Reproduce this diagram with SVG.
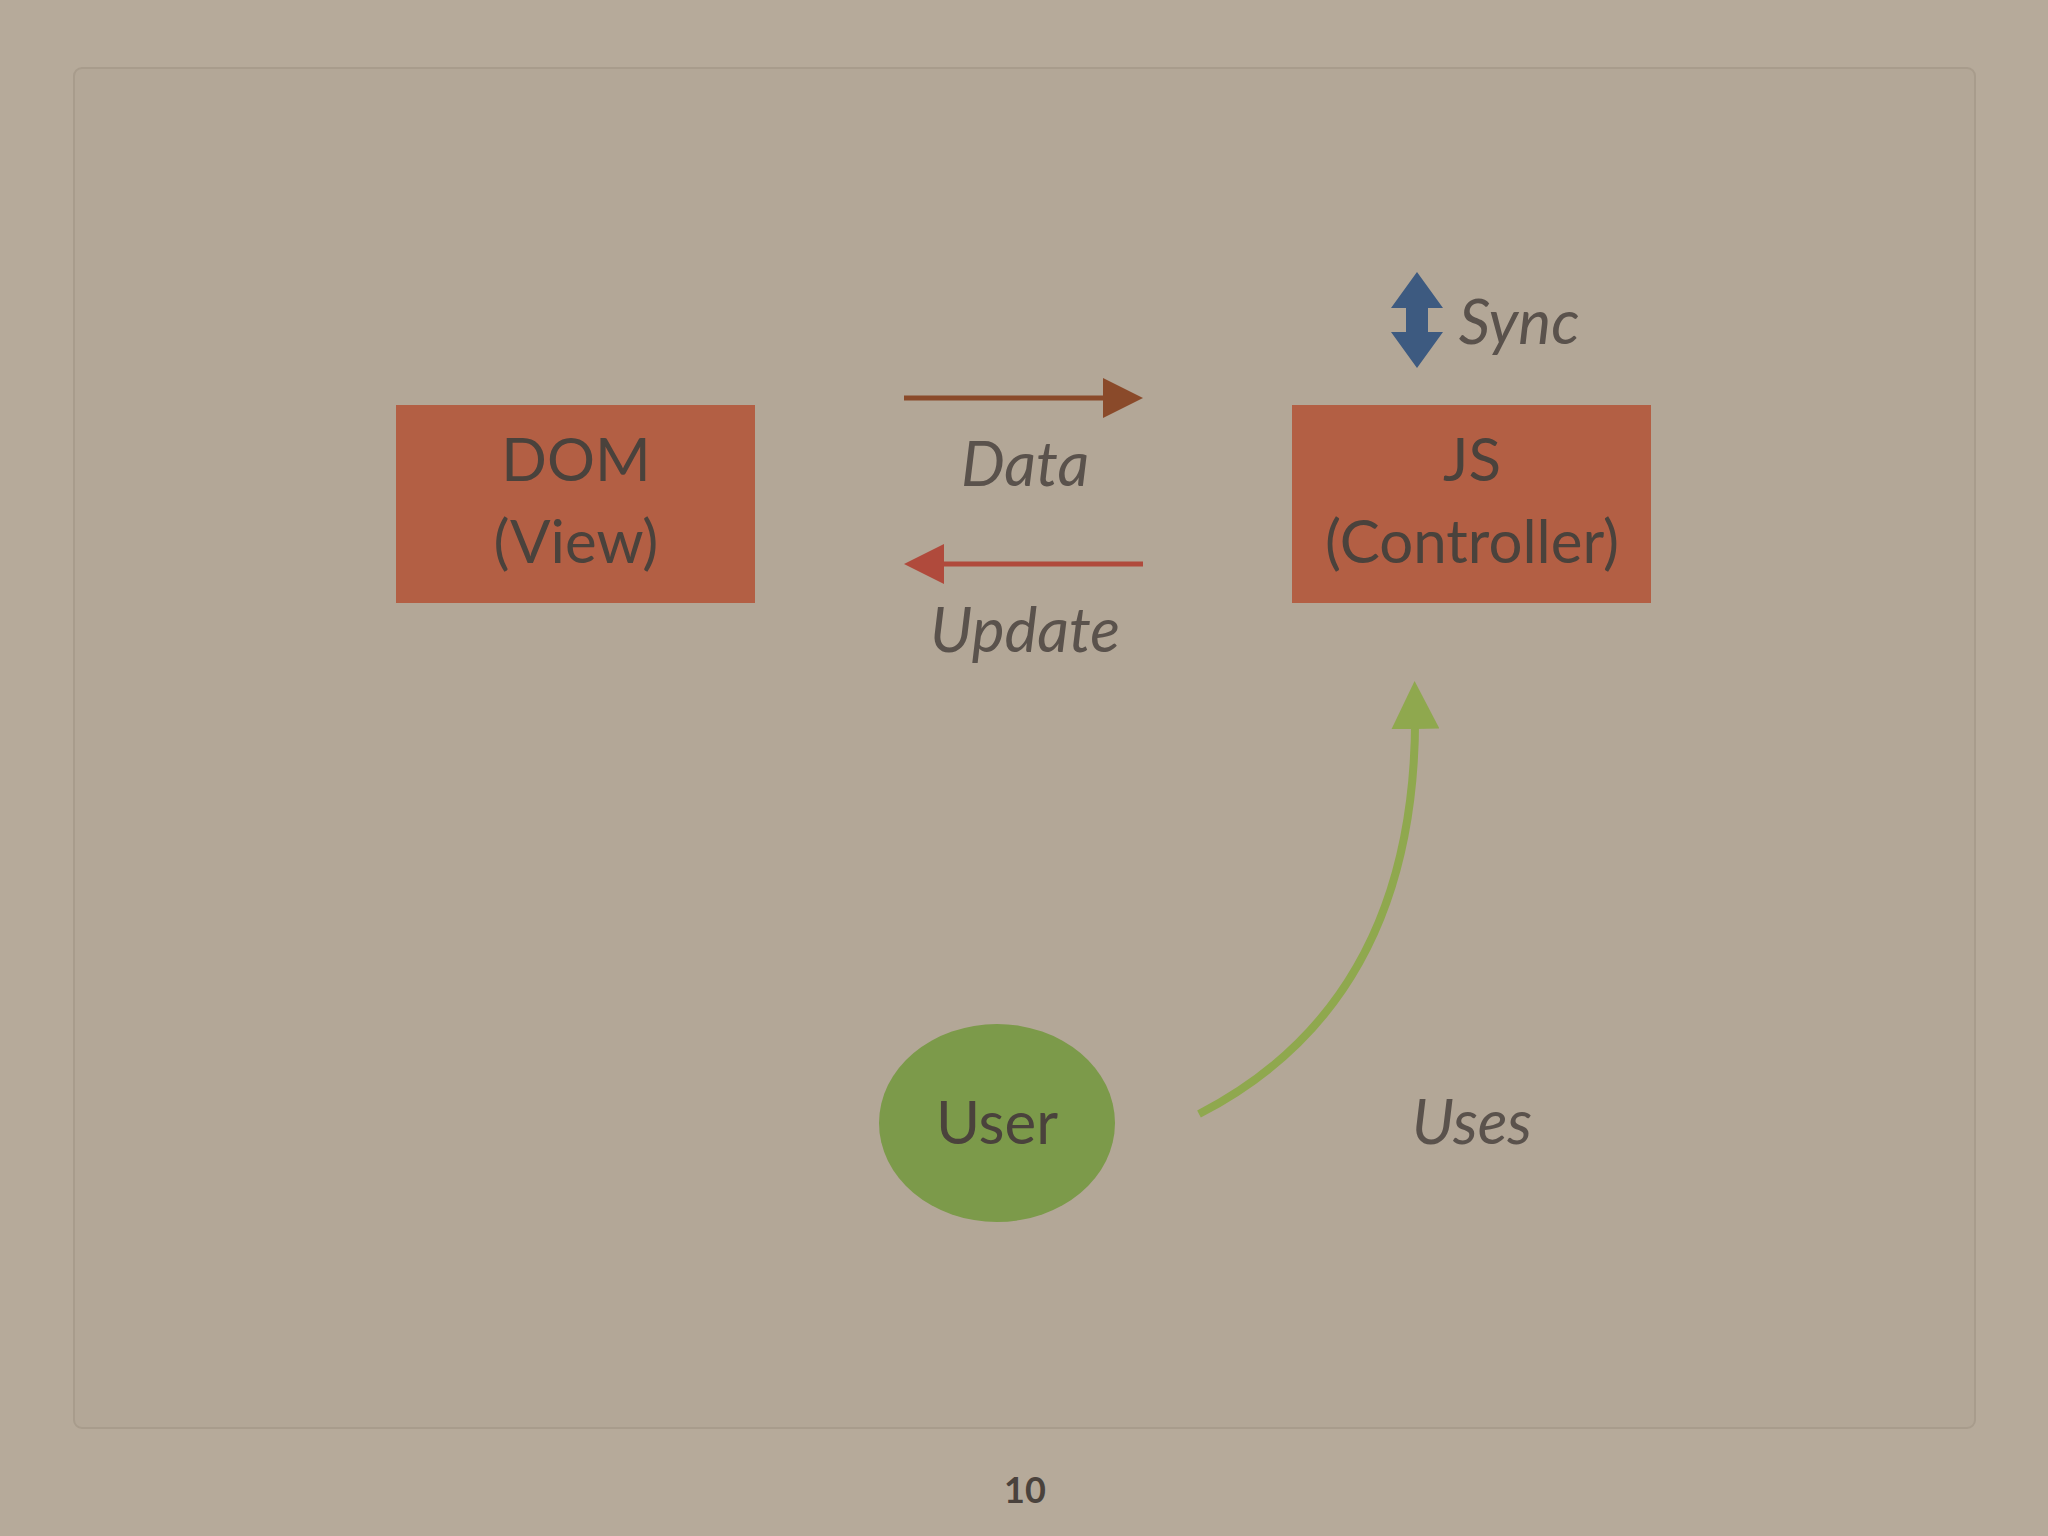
<svg xmlns="http://www.w3.org/2000/svg" width="2048" height="1536" viewBox="0 0 2048 1536">
<style>
.t{font-family:"Lato","Liberation Sans",sans-serif;fill:#4a423c;text-anchor:middle}
.n{font-size:60px}
.i{font-size:62px;font-style:italic;fill:#5a524c}
.box{fill:#b35f44}
</style>
<defs>
<marker id="mb" markerWidth="8" markerHeight="8" refX="5" refY="4" orient="auto" markerUnits="strokeWidth"><path d="M0,0 L8,4 L0,8 Z" fill="#8a4a2a"/></marker>
<marker id="mr" markerWidth="8" markerHeight="8" refX="5" refY="4" orient="auto" markerUnits="strokeWidth"><path d="M0,0 L8,4 L0,8 Z" fill="#b04a3c"/></marker>
<marker id="mg" markerWidth="6" markerHeight="6" refX="3" refY="3" orient="auto" markerUnits="strokeWidth"><path d="M0,0 L6,3 L0,6 Z" fill="#8fa84e"/></marker>
</defs>
<rect width="2048" height="1536" fill="#b6aa9a"/>
<rect x="74" y="68" width="1901" height="1360" rx="8" fill="#b3a797" stroke="#a89c8c" stroke-width="2"/>
<g id="dom"><rect class="box" x="396" y="405" width="359" height="198"/>
<text class="t n" x="576" y="481">DOM</text><text class="t n" x="576" y="563">(View)</text></g>
<g id="js"><rect class="box" x="1292" y="405" width="359" height="198"/>
<text class="t n" x="1472" y="481">JS</text><text class="t n" x="1472" y="563">(Controller)</text></g>
<g id="user"><ellipse cx="997" cy="1123" rx="118" ry="99" fill="#7c9a4a"/>
<text class="t n" x="997" y="1144">User</text></g>
<g id="connectors">
<line x1="904" y1="398" x2="1128" y2="398" stroke="#8a4a2a" stroke-width="5" marker-end="url(#mb)"/>
<line x1="1143" y1="564" x2="919" y2="564" stroke="#b04a3c" stroke-width="5" marker-end="url(#mr)"/>
<path d="M1199,1114 Q1420,1000 1415,705" fill="none" stroke="#8fa84e" stroke-width="8" marker-end="url(#mg)"/>
<path d="M1417,272 L1443,308 L1428,308 L1428,332 L1443,332 L1417,368 L1391,332 L1406,332 L1406,308 L1391,308 Z" fill="#3d5a80"/>
</g>
<text class="t i" x="1025" y="486">Data</text>
<text class="t i" x="1025" y="652">Update</text>
<text class="t i" x="1519" y="344">Sync</text>
<text class="t i" x="1472" y="1144">Uses</text>
<text class="t" x="1025" y="1503" font-size="36" font-weight="bold">10</text>
</svg>
